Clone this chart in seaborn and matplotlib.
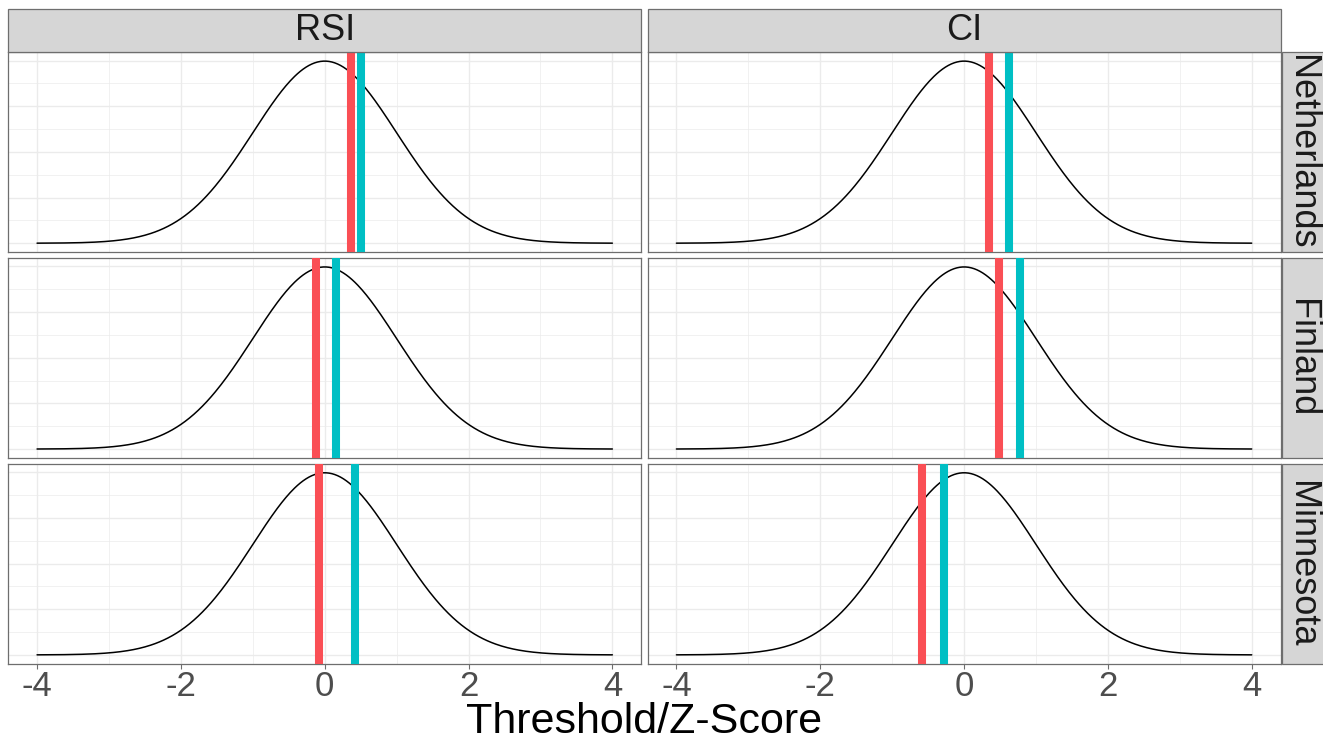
import numpy as np
import pandas as pd
import seaborn as sns
import matplotlib
matplotlib.use("Agg")
import matplotlib.pyplot as plt
from matplotlib.patches import Rectangle

# ---- data ----
indices = ["RSI", "CI"]
regions = ["Netherlands", "Finland", "Minnesota"]
# thresholds per region (order of `regions`)
red_rsi = [0.36, -0.12, -0.08]
teal_rsi = [0.50, 0.15, 0.42]
red_ci = [0.35, 0.48, -0.58]
teal_ci = [0.62, 0.78, -0.28]
xticks = [-4, -2, 0, 2, 4]

RED = "#FA4F55"
TEAL = "#00BFC4"
BORDER = "#6E6E6E"

# standard normal density curve (theoretical distribution shown in each panel)
z = np.linspace(-4, 4, 401)
dens = np.exp(-0.5 * z ** 2) / np.sqrt(2 * np.pi)
curve = pd.concat(
    [pd.DataFrame({"z": z, "density": dens, "index": i, "region": r})
     for i in indices for r in regions],
    ignore_index=True,
)
thr = pd.DataFrame({
    "index": ["RSI"] * 3 + ["CI"] * 3,
    "region": regions * 2,
    "red": red_rsi + red_ci,
    "teal": teal_rsi + teal_ci,
})

sns.set_theme(style="white")
plt.rcParams["font.family"] = ["Liberation Sans", "DejaVu Sans"]
plt.rcParams["axes.unicode_minus"] = False

W, H = 1323, 743
g = sns.FacetGrid(curve, row="region", col="index", row_order=regions,
                  col_order=indices, sharex=True, sharey=True, height=2, aspect=2)
g.map_dataframe(sns.lineplot, x="z", y="density", color="black", linewidth=1.1)

g.figure.set_size_inches(W / 100, H / 100)
g.figure.set_dpi(100)

left, right, top, bottom = 8.3, 1280.5, 52, 664
colgap, rowgap = 6.5, 5.5
g.figure.subplots_adjust(left=left / W, right=right / W, top=1 - top / H,
                         bottom=1 - bottom / H,
                         wspace=colgap / ((right - left - colgap) / 2),
                         hspace=rowgap / ((bottom - top - 2 * rowgap) / 3))

ymax = dens.max()
for ri, r in enumerate(regions):
    for ci, idx in enumerate(indices):
        ax = g.axes[ri, ci]
        row = thr[(thr["index"] == idx) & (thr["region"] == r)].iloc[0]
        ax.axvline(row["red"], color=RED, linewidth=5.8, zorder=5)
        ax.axvline(row["teal"], color=TEAL, linewidth=5.8, zorder=5)
        ax.set_title("")
        ax.set_xlim(-4.4, 4.4)
        ax.set_ylim(-0.05 * ymax, 1.05 * ymax)
        ax.set_xticks(xticks)
        ax.set_xticks([-3, -1, 1, 3], minor=True)
        ax.set_yticks([0, 0.1, 0.2, 0.3, 0.4])
        ax.set_yticks([0.05, 0.15, 0.25, 0.35], minor=True)
        ax.set_facecolor("white")
        ax.grid(True, which="major", color="#EBEBEB", linewidth=1.0)
        ax.grid(True, which="minor", color="#EBEBEB", linewidth=0.5)
        ax.set_axisbelow(True)
        ax.set_xlabel("")
        ax.set_ylabel("")
        ax.tick_params(axis="y", which="both", left=False, labelleft=False)
        ax.tick_params(axis="x", which="minor", bottom=False)
        if ri == len(regions) - 1:
            ax.tick_params(axis="x", which="major", bottom=True, length=3.5,
                           width=0.8, color=BORDER, labelsize=25,
                           labelcolor="#4D4D4D", pad=1)
        else:
            ax.tick_params(axis="x", which="major", bottom=False,
                           labelbottom=False)
        for s in ax.spines.values():
            s.set_visible(True)
            s.set_color(BORDER)
            s.set_linewidth(0.9)

fig = g.figure
# column strips (top)
for ci, idx in enumerate(indices):
    pos = g.axes[0, ci].get_position()
    sh = 43 / H
    rect = Rectangle((pos.x0, pos.y1), pos.width, sh, transform=fig.transFigure,
                     facecolor="#D6D6D6", edgecolor=BORDER, linewidth=0.9,
                     clip_on=False)
    fig.add_artist(rect)
    fig.text(pos.x0 + pos.width / 2, pos.y1 + sh / 2, idx, ha="center",
             va="center", fontsize=26, color="#1A1A1A")
# row strips (right)
for ri, r in enumerate(regions):
    pos = g.axes[ri, 1].get_position()
    sw = 44 / W
    x0 = pos.x1 + 1 / W
    rect = Rectangle((x0, pos.y0), sw, pos.height, transform=fig.transFigure,
                     facecolor="#D6D6D6", edgecolor=BORDER, linewidth=0.9,
                     clip_on=False)
    fig.add_artist(rect)
    fig.text(x0 + sw / 2 - 2 / W, pos.y0 + pos.height / 2, r, ha="center",
             va="center", rotation=-90, fontsize=26, color="#1A1A1A")

fig.text((left + right) / 2 / W, 1 - 733 / H, "Threshold/Z-Score",
         ha="center", va="baseline", fontsize=31, color="black")

fig.savefig("out.png", dpi=100, facecolor="white")
